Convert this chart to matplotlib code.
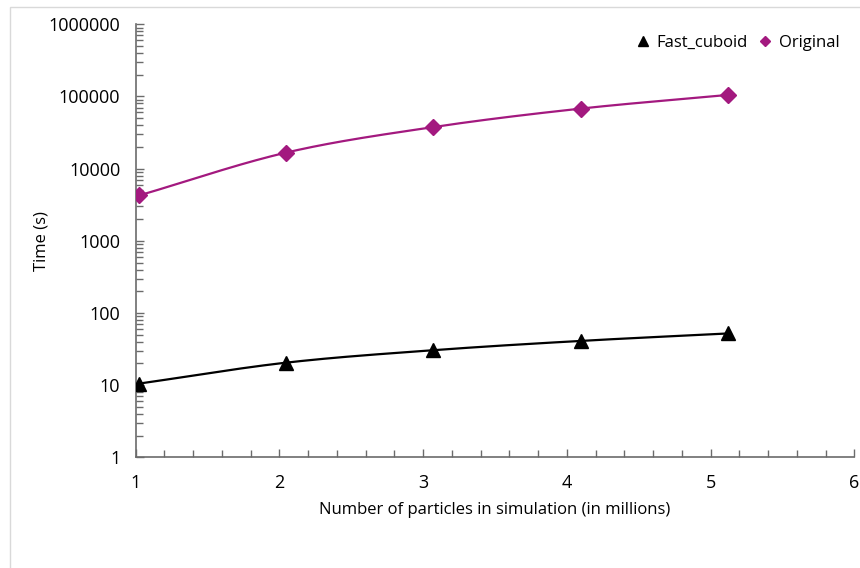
import numpy as np
import matplotlib
matplotlib.use("Agg")
import matplotlib.pyplot as plt
from matplotlib.patches import Rectangle
from matplotlib.ticker import FixedLocator, NullFormatter, LogLocator

# particle counts in millions and run times in seconds
particles = [1.024, 2.048, 3.072, 4.096, 5.12]
fast_cuboid = [10.5, 20.5, 30.5, 41, 52]
original = [4250, 16700, 37700, 67900, 105000]
ytick_labels = ['1', '10', '100', '1000', '10000', '100000', '1000000']

plt.rcParams['font.family'] = ['Open Sans', 'DejaVu Sans']

PURPLE = '#A3197F'
AXIS = '#6b6b6b'


def smooth(xs, ys, n=40):
    # Catmull-Rom through the points, done in log space for the y values
    x = np.asarray(xs, float)
    y = np.log10(np.asarray(ys, float))
    px = np.concatenate([[2 * x[0] - x[1]], x, [2 * x[-1] - x[-2]]])
    py = np.concatenate([[2 * y[0] - y[1]], y, [2 * y[-1] - y[-2]]])
    outx, outy = [], []
    t = np.linspace(0, 1, n)
    for i in range(1, len(px) - 2):
        for arr, out in ((px, outx), (py, outy)):
            p0, p1, p2, p3 = arr[i - 1], arr[i], arr[i + 1], arr[i + 2]
            seg = 0.5 * ((2 * p1) + (-p0 + p2) * t
                         + (2 * p0 - 5 * p1 + 4 * p2 - p3) * t ** 2
                         + (-p0 + 3 * p1 - 3 * p2 + p3) * t ** 3)
            out.extend(seg)
    return np.array(outx), 10 ** np.array(outy)


fig = plt.figure(figsize=(8.6, 5.68), dpi=100)
ax = fig.add_axes([0.1577, 0.1949, 0.9934 - 0.1577, 0.9572 - 0.1949])

# light frame around the chart area
fig.patches.append(Rectangle((9.5 / 860, -0.1), 2, (568 - 7.5) / 568 + 0.1,
                             transform=fig.transFigure, fill=False,
                             edgecolor='#d9d9d9', lw=1))

sx, sy = smooth(particles, fast_cuboid)
ax.plot(sx, sy, color='black', lw=1.6, zorder=2)
ax.plot(particles, fast_cuboid, ls='none', marker='^', ms=10, color='black',
        label='Fast_cuboid', zorder=3)

sx, sy = smooth(particles, original)
ax.plot(sx, sy, color=PURPLE, lw=1.6, zorder=2)
ax.plot(particles, original, ls='none', marker='D', ms=8, color=PURPLE,
        label='Original', zorder=3)

ax.set_yscale('log')
ax.set_ylim(1, 1e6)
ax.set_xlim(1, 6)
ax.set_xticks([1, 2, 3, 4, 5, 6])
ax.xaxis.set_minor_locator(FixedLocator(np.arange(1, 6.01, 0.2)))
ax.yaxis.set_major_locator(FixedLocator([10 ** k for k in range(7)]))
ax.yaxis.set_minor_locator(LogLocator(base=10, subs=np.arange(2, 10)))
ax.yaxis.set_minor_formatter(NullFormatter())
ax.set_yticklabels(ytick_labels)

for s in ('top', 'right'):
    ax.spines[s].set_visible(False)
for s in ('left', 'bottom'):
    ax.spines[s].set_color(AXIS)
    ax.spines[s].set_linewidth(1.2)

ax.tick_params(which='both', direction='in', color=AXIS, width=1,
               labelsize=13, labelcolor='black')
ax.tick_params(which='major', length=6)
ax.tick_params(which='minor', length=5)
ax.tick_params(axis='y', which='major', pad=11)
ax.tick_params(axis='x', which='major', pad=12)

ax.set_xlabel('Number of particles in simulation (in millions)', fontsize=12)
ax.set_ylabel('Time (s)', fontsize=12)
ax.xaxis.set_label_coords(0.5, -0.1033)
ax.yaxis.set_label_coords(-0.1205, 0.5)

ax.legend(loc='upper right', ncol=2, frameon=False, fontsize=12,
          handlelength=0.8, handletextpad=0.4, columnspacing=0.65,
          markerscale=0.7, bbox_to_anchor=(1.0, 1.01))

fig.savefig('out.png', dpi=100)
